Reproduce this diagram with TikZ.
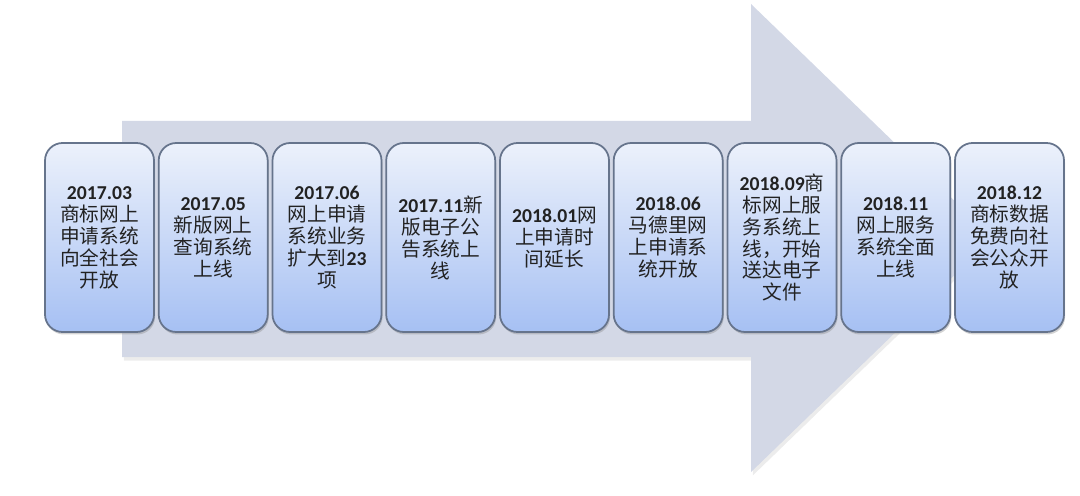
\documentclass[tikz,border=0pt]{standalone}
\usepackage{fontspec}
\setmainfont{Carlito}
\newfontfamily\cjk{Noto Sans CJK SC}
\usetikzlibrary{shadows}
\definecolor{arrowcol}{HTML}{D3D8E6}
\definecolor{boxtop}{HTML}{ECF1FB}
\definecolor{boxbot}{HTML}{A6C0F3}
\definecolor{boxline}{HTML}{66748C}
\definecolor{textcol}{HTML}{222222}
\newcommand{\yr}[1]{{\normalfont\bfseries #1}}

\begin{document}
\begin{tikzpicture}[x=0.2mm, y=-0.2mm,
  stage/.style={rounded corners=10pt, minimum width=21.8mm, minimum height=37.8mm, inner sep=0pt,
    draw=boxline, line width=1pt, top color=boxtop, bottom color=boxbot, align=center,
    font=\fontsize{11.2}{12.5}\selectfont\cjk, text=textcol,
    drop shadow={opacity=0.35, shadow xshift=0.6pt, shadow yshift=-1.4pt}},
  bigarrow/.style={fill=arrowcol, drop shadow={opacity=0.15, shadow xshift=1pt, shadow yshift=-2pt}}
]
  \useasboundingbox (0,0) rectangle (1080,496);
  \path[bigarrow] (122,121) -- (751,121) -- (751,4) -- (993,238) -- (751,472) -- (751,357) -- (122,357) -- cycle;
  \node[stage] (m1703) at (99.5,237.5) {\yr{2017.03}\\商标网上\\申请系统\\向全社会\\开放};
  \node[stage] (m1705) at (213.2,237.5) {\yr{2017.05}\\新版网上\\查询系统\\上线};
  \node[stage] (m1706) at (327,237.5) {\yr{2017.06}\\网上申请\\系统业务\\扩大到\yr{23}\\项};
  \node[stage] (m1711) at (440.7,237.5) {\yr{2017.11}新\\版电子公\\告系统上\\线};
  \node[stage] (m1801) at (554.5,237.5) {\yr{2018.01}网\\上申请时\\间延长};
  \node[stage] (m1806) at (668.2,237.5) {\yr{2018.06}\\马德里网\\上申请系\\统开放};
  \node[stage] (m1809) at (782,237.5) {\yr{2018.09}商\\标网上服\\务系统上\\线，开始\\送达电子\\文件};
  \node[stage] (m1811) at (895.7,237.5) {\yr{2018.11}\\网上服务\\系统全面\\上线};
  \node[stage] (m1812) at (1009.5,237.5) {\yr{2018.12}\\商标数据\\免费向社\\会公众开\\放};
\end{tikzpicture}
\end{document}
